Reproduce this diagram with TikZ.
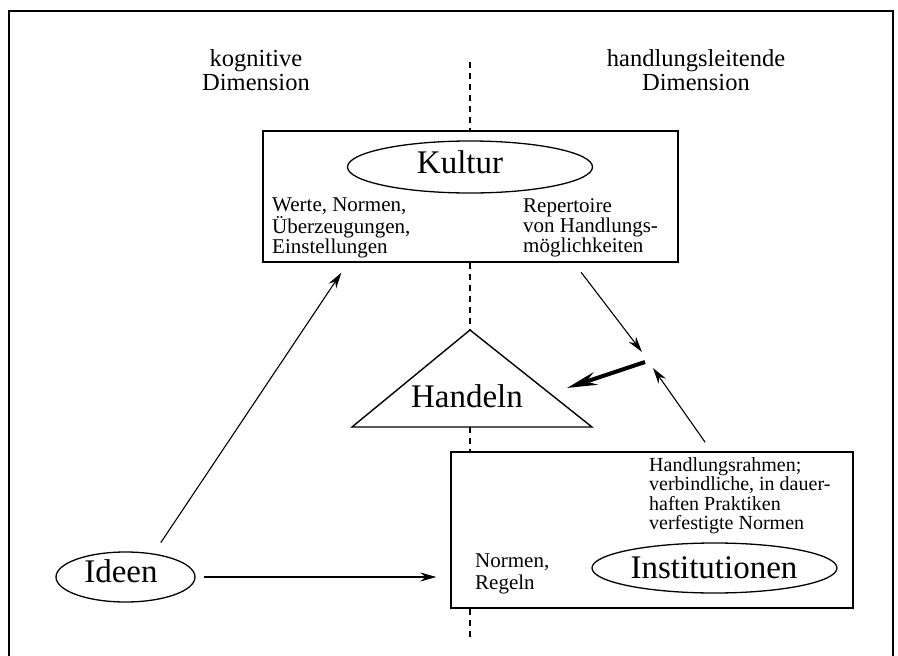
\documentclass[tikz,border=0pt]{standalone}
\usepackage{fontspec}
\setmainfont{Liberation Serif}
\usetikzlibrary{shapes.geometric,arrows.meta,calc}
\begin{document}
\begin{tikzpicture}[x=1pt,y=-1pt,
  frame/.style={line width=2pt},
  box/.style={draw, rectangle, line width=1.4pt, inner sep=0pt},
  ell/.style={draw, ellipse, line width=1.3pt, inner sep=0pt},
  bigtext/.style={font=\fontsize{33}{33}\selectfont, inner sep=0pt, anchor=base},
  headtext/.style={font=\fontsize{24.5}{24}\selectfont, inner sep=0pt, align=center, anchor=north},
  smalltext/.style={font=\fontsize{21}{20}\selectfont, inner sep=0pt, align=left, anchor=north west},
  arr/.style={-{Stealth[length=16pt,width=9pt]}, line width=1.1pt},
  thickarr/.style={-{Stealth[length=30pt,width=13pt]}, line width=4pt},
  divider/.style={dash pattern=on 6pt off 5pt, line width=1.2pt},
]
\fill[white] (0,0) rectangle (898,656);
\useasboundingbox (0,0) rectangle (898,656);

% outer frame
\draw[frame] (9,656) -- (9,11) -- (893,11) -- (893,656);

% headings
\node[headtext] (kog) at (256,49.5) {kognitive\\Dimension};
\node[headtext] (hand) at (696,49.5) {handlungsleitende\\Dimension};

% Kultur box
\node[box, minimum width=415pt, minimum height=131pt] (kulturbox) at (470.5,196.5) {};
\node[ell, minimum width=245pt, minimum height=52pt] (kulturell) at (470,167) {};
\node[bigtext] (kulturlbl) at (460,173) {Kultur};
\node[smalltext] (werte) at (272,198) {Werte, Normen,\\Überzeugungen,\\Einstellungen};
\node[smalltext] (repert) at (523,198) {Repertoire\\von Handlungs-\\möglichkeiten};

% Handeln triangle
\coordinate (hapex) at (470,330);
\coordinate (hleft) at (352,427);
\coordinate (hright) at (592,427);
\draw[line width=1.4pt, line join=miter] (hapex) -- (hleft) -- (hright) -- cycle;
\node[bigtext] (handeln) at (467,407) {Handeln};

% Institutionen box
\node[box, minimum width=402pt, minimum height=156pt] (instbox) at (652,530) {};
\node[ell, minimum width=245pt, minimum height=50pt] (instell) at (714.5,568) {};
\node[bigtext] (instlbl) at (714,578) {Institutionen};
\node[smalltext, font=\fontsize{20}{19.5}\selectfont] (rahmen) at (649,457) {Handlungsrahmen;\\verbindliche, in dauer-\\haften Praktiken\\verfestigte Normen};
\node[smalltext, font=\fontsize{21}{22}\selectfont] (regeln) at (475,554) {Normen,\\Regeln};

% Ideen
\node[ell, minimum width=139pt, minimum height=50pt] (ideenell) at (125.5,577) {};
\node[bigtext] (ideenlbl) at (121,582) {Ideen};

% divider
\coordinate (divtop) at (470,62);
\coordinate (divbot) at (470,640);
\draw[divider] (divtop) -- (divtop |- kulturbox.north);
\draw[divider] (divtop |- kulturbox.south) -- (hapex);
\draw[divider] (hapex |- hleft) -- (hapex |- instbox.north);
\draw[divider] (hapex |- instbox.south) -- (divbot);

% junction points
\coordinate (jtop) at (642,352);
\coordinate (jbot) at (653,368);
\coordinate (jmid) at (645,362);
\coordinate (handelntip) at (567,388);

% arrows
\draw[arr, shorten <=13pt, shorten >=12pt] (ideenell.40) -- ($(kulturbox.south west)+(85.7,0)$);
\draw[arr, shorten <=8pt, shorten >=14pt] (ideenell.east) -- (ideenell.east -| instbox.west);
\draw[arr, shorten <=12pt] ($(kulturbox.south west)+(311.5,0)$) -- (jtop);
\draw[arr, shorten <=11pt] ($(instbox.north west)+(261.2,0)$) -- (jbot);
\draw[thickarr] (jmid) -- (handelntip);
\end{tikzpicture}
\end{document}
